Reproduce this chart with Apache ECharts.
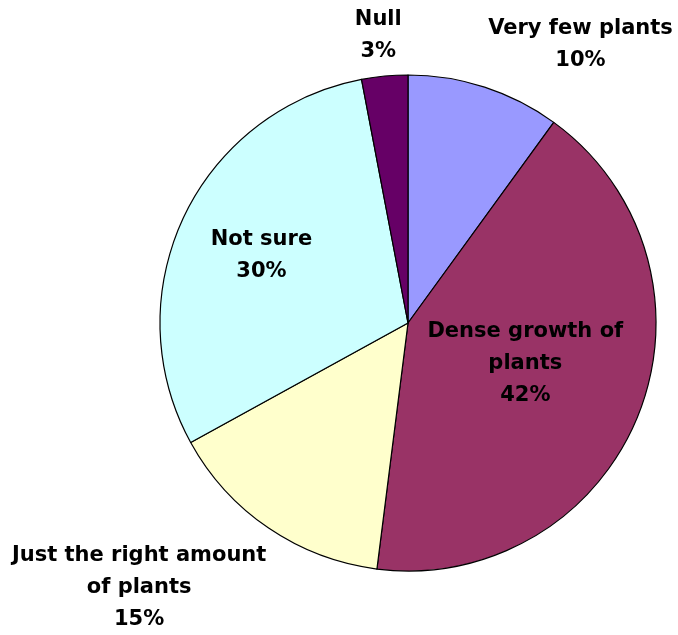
<!DOCTYPE html>
<html>
<head>
<meta charset="utf-8">
<script src="https://cdn.jsdelivr.net/npm/echarts@6/dist/echarts.min.js"></script>
<style>
html,body{margin:0;padding:0;background:#fff;}
#chart{width:678px;height:635px;}
</style>
</head>
<body>
<div id="chart"></div>
<script>
// Data (clockwise from 12 o'clock)
const categories = ['Very few plants', 'Dense growth of\nplants', 'Just the right amount\nof plants', 'Not sure', 'Null'];
const percentValues = [10, 42, 15, 30, 3];
const sliceColors = ['#9999FF', '#993366', '#FFFFCC', '#CCFFFF', '#660066'];

// Label placement (polar offsets around the pie centre: angle clockwise from top in degrees, distance as fraction of radius)
const labelAngles = [31.8, 108.9, 225.5, 294.6, -5.9];
const labelDistances = [1.32, 0.5, 1.52, 0.65, 1.165];

const CX = 408, CY = 323, R = 248;

const chart = echarts.init(document.getElementById('chart'), null, {renderer: 'canvas'});
chart.setOption({
  backgroundColor: '#ffffff',
  animation: false,
  series: [{
    type: 'pie',
    center: [CX, CY],
    radius: R,
    startAngle: 90,
    clockwise: true,
    avoidLabelOverlap: false,
    itemStyle: {borderColor: '#000000', borderWidth: 1.2},
    label: {
      show: true,
      position: 'inside',
      formatter: function (p) { return p.name + '\n' + p.value + '%'; },
      fontFamily: 'DejaVu Sans',
      fontWeight: 'bold',
      fontSize: 21,
      lineHeight: 32,
      color: '#000000',
      align: 'center',
      verticalAlign: 'middle'
    },
    labelLine: {show: false},
    emphasis: {disabled: true},
    labelLayout: function (params) {
      const i = params.dataIndex;
      const a = labelAngles[i] * Math.PI / 180;
      const d = labelDistances[i] * R;
      return {
        x: CX + d * Math.sin(a),
        y: CY - d * Math.cos(a),
        align: 'center',
        verticalAlign: 'middle'
      };
    },
    data: categories.map(function (c, i) {
      return {name: c, value: percentValues[i], itemStyle: {color: sliceColors[i]}};
    })
  }]
});
</script>
</body>
</html>
